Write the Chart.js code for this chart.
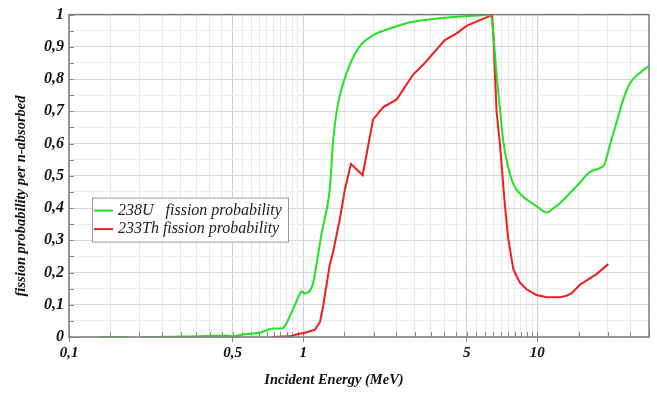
<!DOCTYPE html>
<html>
<head>
<meta charset="utf-8">
<script src="https://cdn.jsdelivr.net/npm/chart.js@4.4.1/dist/chart.umd.min.js"></script>
<style>
  html, body { margin: 0; padding: 0; background: #fff; }
  #wrap { width: 657px; height: 393px; }
</style>
</head>
<body>
<div id="wrap"><canvas id="fissionChart" width="657" height="393"></canvas></div>
<script>
// 238U curve (energy in MeV, probability), null = gap in the line
const uEnergy = [0.133, 0.178, 0.19, 0.205, 0.28, 0.35, 0.42, 0.47, 0.5, 0.555, 0.612, 0.665, 0.71, 0.746, 0.811, 0.838, 0.906, 0.967, 0.985, 1.01, 1.1, 1.14, 1.2, 1.29, 1.31, 1.336, 1.367, 1.41, 1.48, 1.585, 1.75, 1.99, 2.35, 2.9, 3.6, 4.5, 5.5, 6.3, 6.45, 6.7, 6.92, 7.15, 7.51, 7.89, 8.43, 8.99, 9.93, 11.0, 11.7, 12.5, 13.3, 14.2, 15.5, 16.8, 18.5, 19.4, 20.4, 21.8, 23.3, 24.9, 27.4, 30];
const uProb = [0, 0, null, 0, 0.001, 0.002, 0.004, 0.004, 0.002, 0.008, 0.011, 0.015, 0.023, 0.026, 0.026, 0.036, 0.087, 0.133, 0.142, 0.135, 0.164, 0.225, 0.322, 0.44, 0.49, 0.589, 0.66, 0.725, 0.785, 0.846, 0.903, 0.936, 0.957, 0.977, 0.986, 0.993, 0.997, 1.0, 0.96, 0.814, 0.711, 0.609, 0.527, 0.476, 0.445, 0.427, 0.406, 0.386, 0.399, 0.415, 0.435, 0.456, 0.486, 0.512, 0.524, 0.537, 0.594, 0.665, 0.737, 0.788, 0.819, 0.841];

// 233Th curve
const thEnergy = [0.734, 0.878, 0.938, 1.035, 1.123, 1.18, 1.22, 1.26, 1.3, 1.345, 1.436, 1.51, 1.6, 1.795, 1.99, 2.2, 2.51, 2.95, 3.26, 4.03, 4.52, 4.99, 5.69, 6.3, 6.4, 6.5, 6.6, 6.7, 6.9, 7.05, 7.25, 7.5, 7.9, 8.4, 9.0, 9.9, 11.0, 12.5, 13.3, 14.0, 15.2, 17.9, 20.1];
const thProb = [0, 0.002, 0.008, 0.015, 0.023, 0.046, 0.1, 0.164, 0.225, 0.266, 0.368, 0.46, 0.537, 0.502, 0.675, 0.713, 0.737, 0.814, 0.845, 0.921, 0.942, 0.965, 0.983, 0.996, 0.998, 0.93, 0.81, 0.7, 0.61, 0.53, 0.42, 0.31, 0.21, 0.17, 0.148, 0.13, 0.123, 0.123, 0.128, 0.135, 0.162, 0.195, 0.226];

// x axis ticks (log scale) and the ones that carry a label
const xTickValues = [0.1, 0.15, 0.2, 0.25, 0.3, 0.35, 0.4, 0.45, 0.5, 0.55, 0.6, 0.65, 0.7, 0.75, 0.8, 0.85, 0.9, 0.95,
  1, 1.5, 2, 2.5, 3, 3.5, 4, 4.5, 5, 5.5, 6, 6.5, 7, 7.5, 8, 8.5, 9, 9.5, 10, 15, 20, 25, 30];
const xLabelValues = [0.1, 0.5, 1, 5, 10];
const xLabelText = ['0,1', '0,5', '1', '5', '10'];

const seriesLabels = ['238U   fission probability', '233Th fission probability'];
const seriesColors = ['#22e322', '#f21c1c'];

const serif = 'Liberation Serif, Times New Roman, serif';

function toPoints(xs, ys) {
  return xs.map((x, i) => ({ x: x, y: ys[i] }));
}

// inward tick marks + dark frame around the plot
const frameAndTicks = {
  id: 'frameAndTicks',
  beforeDatasetsDraw(chart) {
    const { ctx, chartArea: a, scales: { x, y } } = chart;
    ctx.save();
    ctx.strokeStyle = '#8a8a8a';
    ctx.lineWidth = 1;
    ctx.beginPath();
    y.ticks.forEach(t => {
      const py = Math.round(y.getPixelForValue(t.value)) + 0.5;
      ctx.moveTo(a.left, py);
      ctx.lineTo(a.left + 5, py);
    });
    x.ticks.forEach(t => {
      const px = Math.round(x.getPixelForValue(t.value)) + 0.5;
      ctx.moveTo(px, a.bottom);
      ctx.lineTo(px, a.bottom - 5);
    });
    ctx.stroke();
    ctx.restore();
  },
  afterDatasetsDraw(chart) {
    const { ctx, chartArea: a } = chart;
    ctx.save();
    ctx.strokeStyle = '#7c7c7c';
    ctx.lineWidth = 1.5;
    ctx.strokeRect(a.left, a.top, a.right - a.left, a.bottom - a.top);
    ctx.restore();
  }
};

// boxed legend inside the plot
const boxLegend = {
  id: 'boxLegend',
  afterDraw(chart) {
    const { ctx, chartArea: a } = chart;
    const x0 = a.left + 23, y0 = a.top + 183, w = 196, h = 44;
    ctx.save();
    ctx.fillStyle = '#fff';
    ctx.fillRect(x0, y0, w, h);
    ctx.strokeStyle = '#9a9a9a';
    ctx.lineWidth = 1;
    ctx.strokeRect(x0 + 0.5, y0 + 0.5, w, h);
    ctx.font = 'italic 16px ' + serif;
    ctx.textBaseline = 'middle';
    chart.data.datasets.forEach((ds, i) => {
      const ly = y0 + 13 + i * 18.5;
      ctx.strokeStyle = ds.borderColor;
      ctx.lineWidth = 2;
      ctx.beginPath();
      ctx.moveTo(x0 + 2, ly);
      ctx.lineTo(x0 + 21, ly);
      ctx.stroke();
      ctx.fillStyle = '#222';
      ctx.fillText(ds.label, x0 + 26, ly);
    });
    ctx.restore();
  }
};

// axis titles
const axisTitles = {
  id: 'axisTitles',
  afterDraw(chart) {
    const ctx = chart.ctx;
    ctx.save();
    ctx.fillStyle = '#111';
    ctx.font = 'italic bold 14.5px ' + serif;
    ctx.textAlign = 'center';
    ctx.textBaseline = 'middle';
    ctx.fillText('Incident Energy (MeV)', 334, 380);
    ctx.translate(21, 196);
    ctx.rotate(-Math.PI / 2);
    ctx.fillText('fission probability per n-absorbed', 0, 0);
    ctx.restore();
  }
};

new Chart(document.getElementById('fissionChart'), {
  type: 'line',
  data: {
    datasets: [
      {
        label: seriesLabels[0],
        data: toPoints(uEnergy, uProb),
        borderColor: seriesColors[0],
        borderWidth: 2,
        pointRadius: 0,
        cubicInterpolationMode: 'monotone',
        spanGaps: false
      },
      {
        label: seriesLabels[1],
        data: toPoints(thEnergy, thProb),
        borderColor: seriesColors[1],
        borderWidth: 2,
        pointRadius: 0,
        tension: 0
      }
    ]
  },
  options: {
    responsive: false,
    animation: false,
    devicePixelRatio: 1,
    layout: { padding: { top: 11, right: 8, left: 0, bottom: 0 } },
    plugins: {
      legend: { display: false },
      tooltip: { enabled: false }
    },
    scales: {
      x: {
        type: 'logarithmic',
        min: 0.1,
        max: 30,
        afterBuildTicks: scale => {
          scale.ticks = xTickValues.map(v => ({ value: v }));
        },
        afterFit: scale => { scale.height = 56; },
        border: { display: false },
        grid: {
          color: ctx => (ctx.tick && xLabelValues.includes(ctx.tick.value)) ? '#cfcfcf' : '#e8e8e8',
          tickColor: ctx => (ctx.tick && xLabelValues.includes(ctx.tick.value)) ? '#8a8a8a' : 'rgba(0,0,0,0)',
          tickLength: 5
        },
        ticks: {
          autoSkip: false,
          maxRotation: 0,
          padding: 2,
          color: '#111',
          font: { family: serif, size: 15, style: 'italic', weight: 'bold' },
          callback: value => {
            const i = xLabelValues.indexOf(value);
            return i >= 0 ? xLabelText[i] : '';
          }
        }
      },
      y: {
        min: 0,
        max: 1,
        afterFit: scale => { scale.width = 69; },
        border: { display: false },
        grid: {
          drawTicks: false,
          color: ctx => {
            if (!ctx.tick) return '#ececec';
            const tenth = Math.round(ctx.tick.value * 20) % 2 === 0;
            return tenth ? '#d7d7d7' : '#eeeeee';
          }
        },
        ticks: {
          stepSize: 0.05,
          autoSkip: false,
          padding: 5,
          color: '#111',
          font: { family: serif, size: 16, style: 'italic', weight: 'bold' },
          callback: value => {
            const n = Math.round(value * 20);
            if (n % 2 !== 0) return '';
            const v = n / 20;
            return v === 0 || v === 1 ? String(v) : v.toFixed(1).replace('.', ',');
          }
        }
      }
    }
  },
  plugins: [frameAndTicks, boxLegend, axisTitles]
});
</script>
</body>
</html>
